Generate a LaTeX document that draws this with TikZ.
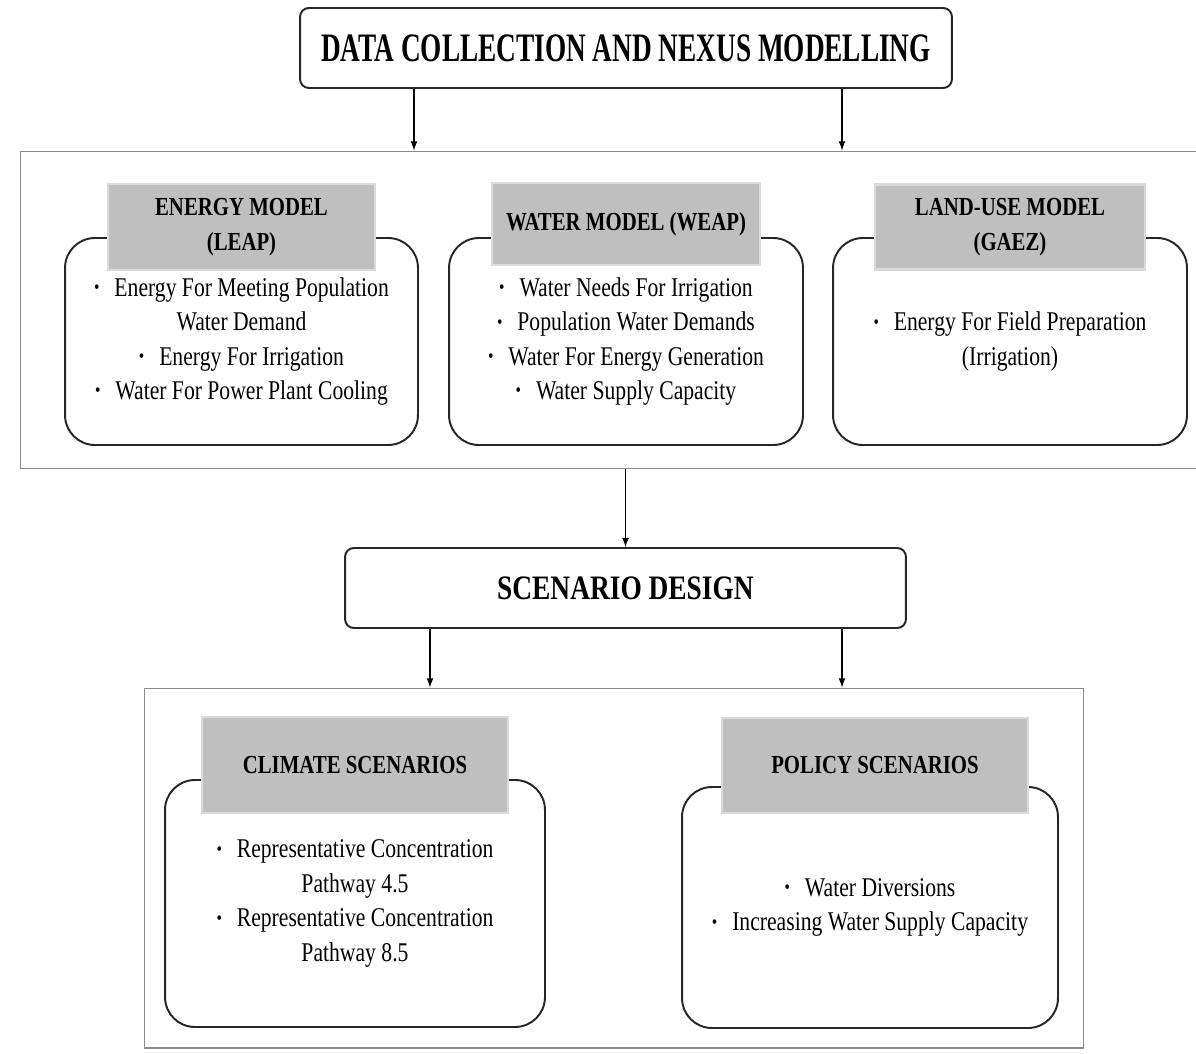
\documentclass[tikz,border=0pt]{standalone}
\usepackage{fontspec}
\setmainfont{Liberation Serif}[FakeStretch=0.8]
\newfontfamily\titlefont{Liberation Serif}[FakeStretch=0.675]
\usepackage{tikz}
\usetikzlibrary{arrows}

\newcommand{\itembul}{\raisebox{0.1em}{\fontsize{11}{11}\selectfont\textbullet}\hspace{0.55em}}

\begin{document}
\begin{tikzpicture}[x=0.02cm, y=-0.02cm,
  mainbox/.style={draw=black!85, line width=1.1pt, rounded corners=5pt, fill=white, inner sep=0},
  groupbox/.style={draw=black!45, line width=0.6pt, inner sep=0},
  modelbox/.style={draw=black!85, line width=1.1pt, rounded corners=17pt, inner sep=0},
  headbox/.style={fill=black!25, draw=black!14, line width=1.5pt, inner sep=0, align=center,
    font=\fontsize{14.8}{19.8}\selectfont\bfseries},
  itemtext/.style={align=center, inner sep=0, font=\fontsize{15.4}{19.6}\selectfont},
  link/.style={-latex, line width=0.8pt}]

  \useasboundingbox (0,0) rectangle (1196,1054);

  \node [groupbox, minimum width=23.6cm, minimum height=6.36cm] (models) at (610,310) {};
  \node [groupbox, minimum width=18.8cm, minimum height=7.2cm] (scenarios) at (614,868) {};

  \node [mainbox, minimum width=13.04cm, minimum height=1.6cm,
    font=\titlefont\fontsize{23}{27}\selectfont\bfseries] (data) at (626,48) {DATA COLLECTION AND NEXUS MODELLING};
  \node [mainbox, minimum width=11.22cm, minimum height=1.6cm,
    font=\fontsize{19.5}{23}\selectfont\bfseries] (design) at (625.5,588) {SCENARIO DESIGN};

  \node [modelbox, minimum width=7.06cm, minimum height=4.14cm] (energy) at (241.5,341.5) {};
  \node [modelbox, minimum width=7.08cm, minimum height=4.14cm] (water) at (626,341.5) {};
  \node [modelbox, minimum width=7.08cm, minimum height=4.14cm] (land) at (1010,341.5) {};
  \node [modelbox, minimum width=7.6cm, minimum height=4.94cm] (climate) at (355,903.5) {};
  \node [modelbox, minimum width=7.52cm, minimum height=4.82cm] (policy) at (870,907.5) {};

  \node [headbox, minimum width=5.34cm, minimum height=1.72cm] (energyhead) at (241.5,227) {ENERGY MODEL\\(LEAP)};
  \node [headbox, minimum width=5.36cm, minimum height=1.64cm] (waterhead) at (626,224) {WATER MODEL (WEAP)};
  \node [headbox, minimum width=5.4cm, minimum height=1.7cm] (landhead) at (1010,227) {LAND-USE MODEL\\(GAEZ)};
  \node [headbox, minimum width=6.12cm, minimum height=1.92cm] (climatehead) at (355,765) {CLIMATE SCENARIOS};
  \node [headbox, minimum width=6.12cm, minimum height=1.9cm] (policyhead) at (875,765.5) {POLICY SCENARIOS};

  \node [itemtext] (energytext) at (energy) {\itembul Energy For Meeting Population\\Water Demand\\
    \itembul Energy For Irrigation\\\itembul Water For Power Plant Cooling};
  \node [itemtext] (watertext) at (water) {\itembul Water Needs For Irrigation\\\itembul Population Water Demands\\
    \itembul Water For Energy Generation\\\itembul Water Supply Capacity};
  \node [itemtext] (landtext) at (land) {\itembul Energy For Field Preparation\\(Irrigation)};
  \node [itemtext] (climatetext) at (climate) {\itembul Representative Concentration\\Pathway 4.5\\
    \itembul Representative Concentration\\Pathway 8.5};
  \node [itemtext] (policytext) at (policy) {\itembul Water Diversions\\\itembul Increasing Water Supply Capacity};

  \draw [link] (data.south -| 414,0) -- (models.north -| 414,0);
  \draw [link] (data.south -| 842,0) -- (models.north -| 842,0);
  \draw [link] (models.south -| design.north) -- (design.north);
  \draw [link] (design.south -| 430,0) -- (scenarios.north -| 430,0);
  \draw [link] (design.south -| 842,0) -- (scenarios.north -| 842,0);
\end{tikzpicture}
\end{document}
